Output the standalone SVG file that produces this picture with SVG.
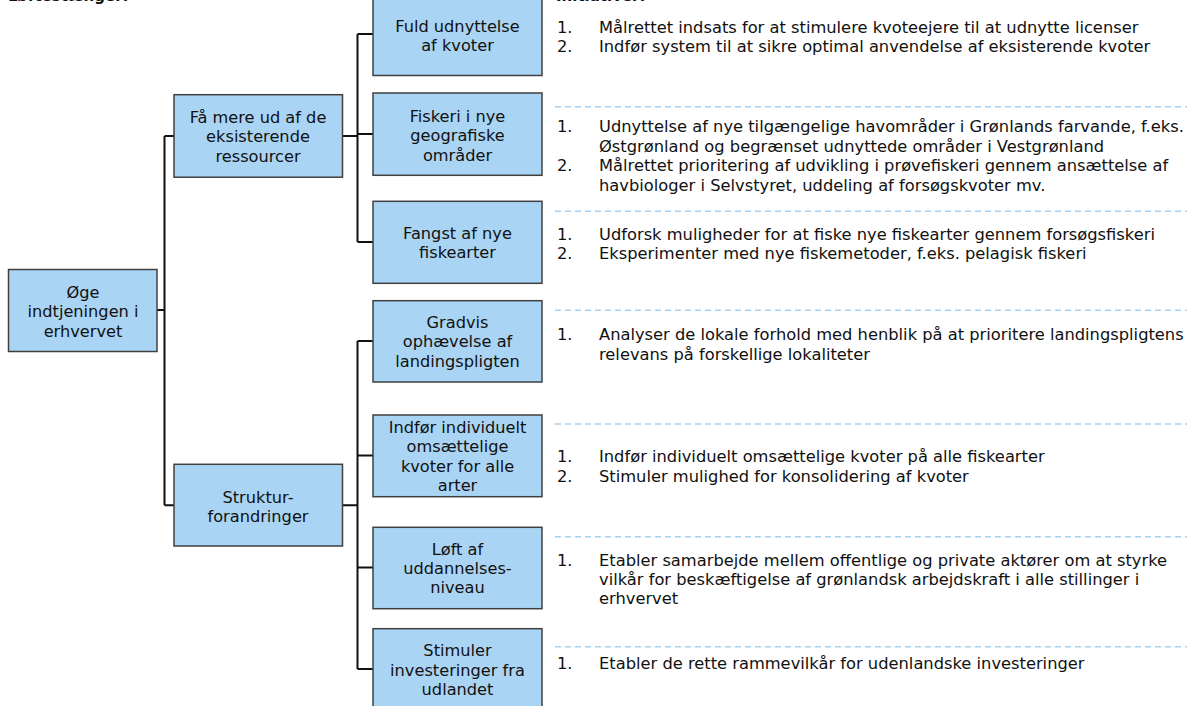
<svg xmlns="http://www.w3.org/2000/svg" width="1187" height="706" viewBox="0 0 1187 706">
<style>
.box{fill:#A9D4F4;stroke:#404040;stroke-width:1.5}
.bt{font-family:"DejaVu Sans",Verdana,sans-serif;font-size:16.2px;fill:#111;text-anchor:middle}
.it{font-family:"DejaVu Sans",Verdana,sans-serif;font-size:16.3px;fill:#111}
.hd{font-family:"DejaVu Sans",Verdana,sans-serif;font-size:15px;font-weight:bold;fill:#111}
.con{fill:none;stroke:#111;stroke-width:2}
.dash{stroke:#A6D2F2;stroke-width:1.5;stroke-dasharray:6 4;fill:none}
</style>
<rect width="1187" height="706" fill="#fff"/>
<text class="hd" x="8" y="1">Løftestænger:</text>
<text class="hd" x="556" y="1">Initiativer:</text>

<g id="connectors">
<path class="con" d="M157 310 H164.5 M164.5 136 V505.3 M164.5 136 H174 M164.5 505.3 H174"/>
<path class="con" d="M342 136 H357.5 M357.5 34 V242 M357.5 34 H373 M357.5 134 H373 M357.5 242 H373"/>
<path class="con" d="M342 505.3 H357.5 M357.5 341 V669 M357.5 341 H373 M357.5 455.5 H373 M357.5 567.5 H373 M357.5 669 H373"/>
</g>

<g id="root"><rect class="box" x="8.5" y="269.5" width="148.5" height="82"/>
<text class="bt" x="83" y="298">Øge</text><text class="bt" x="83" y="317">indtjeningen i</text><text class="bt" x="83" y="337">erhvervet</text></g>

<g id="faa-mere"><rect class="box" x="174" y="94.7" width="168.5" height="82.5"/>
<text class="bt" x="258" y="123">Få mere ud af de</text><text class="bt" x="258" y="142">eksisterende</text><text class="bt" x="258" y="162">ressourcer</text></g>

<g id="struktur"><rect class="box" x="174" y="464.3" width="168.5" height="81.7"/>
<text class="bt" x="258" y="503">Struktur-</text><text class="bt" x="258" y="522">forandringer</text></g>

<g id="fuld"><rect class="box" x="373" y="-7.5" width="169" height="83"/>
<text class="bt" x="457.5" y="32">Fuld udnyttelse</text><text class="bt" x="457.5" y="51">af kvoter</text></g>

<g id="fiskeri"><rect class="box" x="373" y="93" width="169" height="82.3"/>
<text class="bt" x="457.5" y="122">Fiskeri i nye</text><text class="bt" x="457.5" y="141">geografiske</text><text class="bt" x="457.5" y="160.5">områder</text></g>

<g id="fangst"><rect class="box" x="373" y="201.3" width="169" height="82"/>
<text class="bt" x="457.5" y="239">Fangst af nye</text><text class="bt" x="457.5" y="258">fiskearter</text></g>

<g id="gradvis"><rect class="box" x="373" y="300.7" width="169" height="81.3"/>
<text class="bt" x="457.5" y="328">Gradvis</text><text class="bt" x="457.5" y="347">ophævelse af</text><text class="bt" x="457.5" y="367">landingspligten</text></g>

<g id="indfoer"><rect class="box" x="373" y="415" width="169" height="81.7"/>
<text class="bt" x="457.5" y="433">Indfør individuelt</text><text class="bt" x="457.5" y="452">omsættelige</text><text class="bt" x="457.5" y="472">kvoter for alle</text><text class="bt" x="457.5" y="491">arter</text></g>

<g id="loeft"><rect class="box" x="373" y="527.3" width="169" height="81.4"/>
<text class="bt" x="457.5" y="555">Løft af</text><text class="bt" x="457.5" y="574">uddannelses-</text><text class="bt" x="457.5" y="593">niveau</text></g>

<g id="stimuler"><rect class="box" x="373" y="628.7" width="169" height="82"/>
<text class="bt" x="457.5" y="656">Stimuler</text><text class="bt" x="457.5" y="675.5">investeringer fra</text><text class="bt" x="457.5" y="695">udlandet</text></g>

<g id="initiatives">
<path class="dash" d="M555 106.7 H1187 M555 211.3 H1187 M555 310.3 H1187 M555 424 H1187 M555 536.7 H1187 M555 646.7 H1187"/>
<text class="it" x="557" y="33">1.</text><text class="it" x="599" y="33">Målrettet indsats for at stimulere kvoteejere til at udnytte licenser</text>
<text class="it" x="557" y="52">2.</text><text class="it" x="599" y="52">Indfør system til at sikre optimal anvendelse af eksisterende kvoter</text>
<text class="it" x="557" y="132">1.</text><text class="it" x="599" y="132">Udnyttelse af nye tilgængelige havområder i Grønlands farvande, f.eks.</text>
<text class="it" x="599" y="152">Østgrønland og begrænset udnyttede områder i Vestgrønland</text>
<text class="it" x="557" y="171">2.</text><text class="it" x="599" y="171">Målrettet prioritering af udvikling i prøvefiskeri gennem ansættelse af</text>
<text class="it" x="599" y="190.5">havbiologer i Selvstyret, uddeling af forsøgskvoter mv.</text>
<text class="it" x="557" y="240">1.</text><text class="it" x="599" y="240">Udforsk muligheder for at fiske nye fiskearter gennem forsøgsfiskeri</text>
<text class="it" x="557" y="259">2.</text><text class="it" x="599" y="259">Eksperimenter med nye fiskemetoder, f.eks. pelagisk fiskeri</text>
<text class="it" x="557" y="340">1.</text><text class="it" x="599" y="340">Analyser de lokale forhold med henblik på at prioritere landingspligtens</text>
<text class="it" x="599" y="359.5">relevans på forskellige lokaliteter</text>
<text class="it" x="557" y="462">1.</text><text class="it" x="599" y="462">Indfør individuelt omsættelige kvoter på alle fiskearter</text>
<text class="it" x="557" y="481.5">2.</text><text class="it" x="599" y="481.5">Stimuler mulighed for konsolidering af kvoter</text>
<text class="it" x="557" y="565.5">1.</text><text class="it" x="599" y="565.5">Etabler samarbejde mellem offentlige og private aktører om at styrke</text>
<text class="it" x="599" y="584.5">vilkår for beskæftigelse af grønlandsk arbejdskraft i alle stillinger i</text>
<text class="it" x="599" y="604">erhvervet</text>
<text class="it" x="557" y="668.5">1.</text><text class="it" x="599" y="668.5">Etabler de rette rammevilkår for udenlandske investeringer</text>
</g>
</svg>
